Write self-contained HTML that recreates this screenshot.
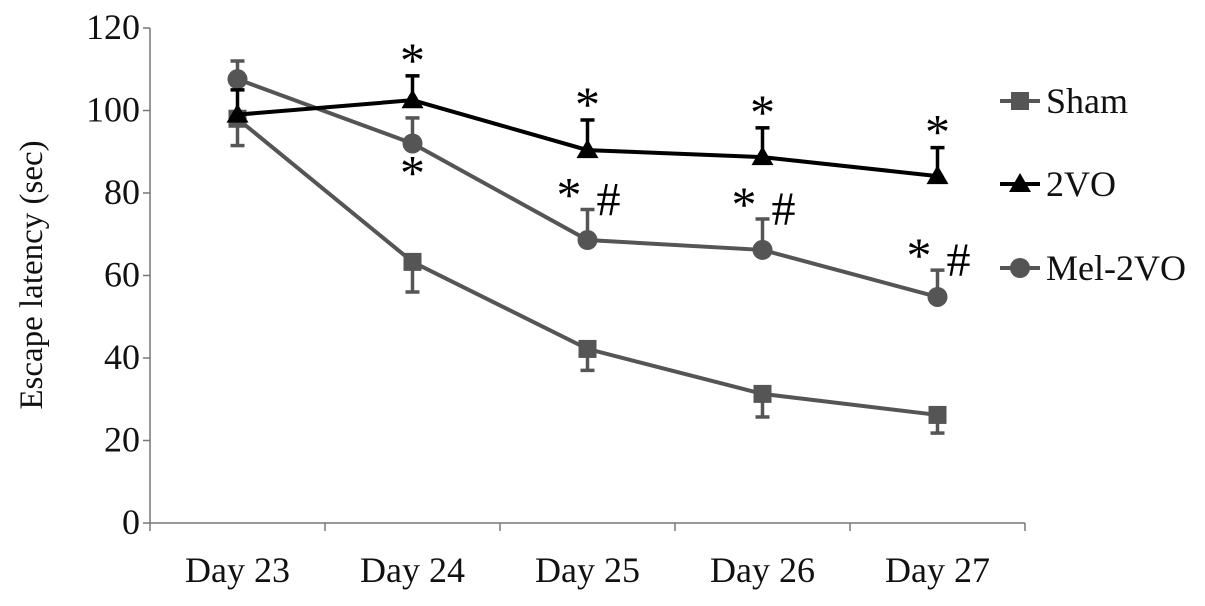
<!DOCTYPE html>
<html><head><meta charset="utf-8"><style>
body{margin:0;background:#fff;}
svg text{font-family:"Liberation Serif",serif;}
</style></head><body>
<svg id="chart" width="1205" height="601" viewBox="0 0 1205 601" xmlns="http://www.w3.org/2000/svg"></svg>
<script>
const categories=["Day 23","Day 24","Day 25","Day 26","Day 27"];
const yTicks=[0,20,40,60,80,100,120];
const shamVals=[98,63.3,42.2,31.3,26.2];
const shamErr=[6.5,7.3,5.2,5.6,4.4];
const twoVals=[99,102.5,90.4,88.7,84.1];
const twoErr=[6,5.9,7.3,7.1,6.9];
const melVals=[107.6,92,68.6,66.2,54.8];
const melErr=[4.4,6.2,7.4,7.5,6.5];
const twoMarks=["","*","*","*","*"];
const melMarks=["","*","* #","* #","* #"];

const svg=document.getElementById('chart');
const NS='http://www.w3.org/2000/svg';
const x0=150,x1=1025,y0=523,yTop=28;
function yS(v){return y0-(v/120)*(y0-yTop);}
function xS(i){return x0+(x1-x0)/categories.length*(i+0.5);}
function mk(t,a,p){const e=document.createElementNS(NS,t);for(const k in a)e.setAttribute(k,a[k]);(p||svg).appendChild(e);return e;}

let e=mk('line',{x1:x0,y1:yTop,x2:x0,y2:y0,stroke:'#777','stroke-width':1.5});


e=mk('line',{x1:x0,y1:y0,x2:x1,y2:y0,stroke:'#777','stroke-width':1.5});


yTicks.forEach(v=>{
  const y=yS(v);
  mk('line',{x1:x0-7,y1:y,x2:x0,y2:y,stroke:'#777','stroke-width':1.5});
  const t=mk('text',{x:x0-10,y:y+11,'text-anchor':'end','font-size':36,fill:'#111'});
  t.textContent=v;
  
  
});
for(let i=0;i<=categories.length;i++){
  const x=x0+(x1-x0)/categories.length*i;
  mk('line',{x1:x,y1:y0,x2:x,y2:y0+8,stroke:'#777','stroke-width':1.5});
}
categories.forEach((c,i)=>{
  const t=mk('text',{x:xS(i),y:582,'text-anchor':'middle','font-size':36,fill:'#111'});
  t.textContent=c;
  
  
});
e=mk('text',{x:0,y:0,transform:'translate(42,275) rotate(-90)','text-anchor':'middle','font-size':33,fill:'#111'});
e.textContent='Escape latency (sec)';



function marker(shape,x,y,col,g){
  if(shape==='square')return mk('rect',{x:x-9,y:y-9,width:18,height:18,fill:col},g);
  if(shape==='tri')return mk('polygon',{points:`${x},${y-11} ${x-11},${y+8} ${x+11},${y+8}`,fill:col},g);
  return mk('circle',{cx:x,cy:y,r:10,fill:col},g);
}
function series(name,vals,errs,dir,col,shape){
  const g=mk('g',{});
  
  
  vals.forEach((v,i)=>{
    const ye=yS(v+dir*errs[i]);
    mk('line',{x1:xS(i),y1:yS(v),x2:xS(i),y2:ye,stroke:col,'stroke-width':3.5},g);
    mk('line',{x1:xS(i)-7,y1:ye,x2:xS(i)+7,y2:ye,stroke:col,'stroke-width':3.5},g);
  });
  mk('polyline',{points:vals.map((v,i)=>xS(i)+','+yS(v)).join(' '),fill:'none',stroke:col,'stroke-width':4},g);
  vals.forEach((v,i)=>{const m=marker(shape,xS(i),yS(v),col,g);
    
    });
}
series('sham',shamVals,shamErr,-1,'#555','square');
series('mel-2vo',melVals,melErr,1,'#555','circle');
series('2vo',twoVals,twoErr,1,'#000','tri');

twoMarks.forEach((s,i)=>{if(!s)return;
  const t=mk('text',{x:xS(i),y:yS(twoVals[i]+twoErr[i])+1,'text-anchor':'middle','font-size':50,fill:'#000'});
  t.textContent=s;
  
  
});
melMarks.forEach((s,i)=>{if(!s)return;
  let t;
  if(s==='*'){t=mk('text',{x:xS(i),y:yS(melVals[i])+46,'text-anchor':'middle','font-size':50,fill:'#000'});t.textContent='*';}
  else{
    t=mk('text',{x:xS(i)-6,y:yS(melVals[i]+melErr[i])+2,'text-anchor':'end','font-size':50,fill:'#000'});t.textContent='*';
    const h=mk('text',{x:xS(i)+9,y:yS(melVals[i]+melErr[i])+6,'text-anchor':'start','font-size':48,fill:'#000'});h.textContent='#';
    
    
  }
  
  
});

const legend=[['Sham','square','#555',101],['2VO','tri','#000',184],['Mel-2VO','circle','#555',268]];
legend.forEach(([n,s,c,y])=>{
  const g=mk('g',{});
  
  
  mk('line',{x1:1000,y1:y,x2:1040,y2:y,stroke:c,'stroke-width':4},g);
  marker(s,1020,y,c,g);
  const t=mk('text',{x:1046,y:y+12,'font-size':36,fill:'#111'},g);t.textContent=n;
});
</script>
</body></html>
